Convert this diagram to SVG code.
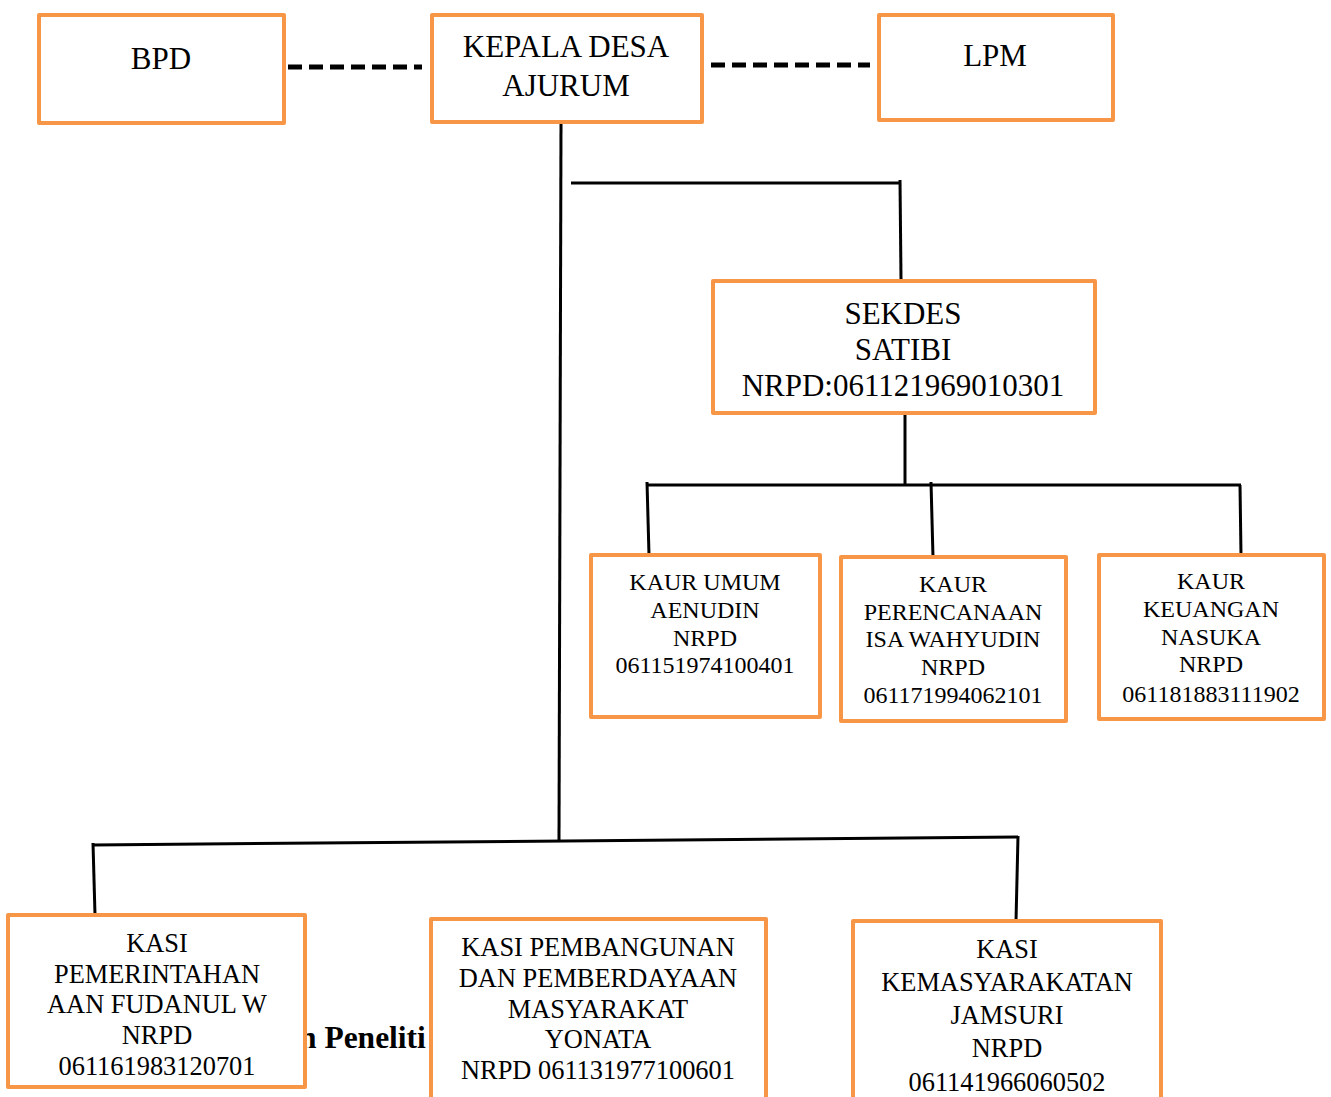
<svg xmlns="http://www.w3.org/2000/svg" width="1331" height="1097" viewBox="0 0 1331 1097">
<style>
.box{fill:#fff;stroke:#F79646;stroke-width:4;stroke-linejoin:round}
text{font-family:"Liberation Serif","Times New Roman",serif;fill:#000;text-anchor:middle}
.t31{font-size:31px}
.t24{font-size:24px}
.t26{font-size:26.4px}
.ln{stroke:#000;stroke-width:3;fill:none}
.dash{stroke:#000;stroke-width:5;stroke-dasharray:14 7;fill:none}
</style>
<rect width="1331" height="1097" fill="#fff"/>
<text x="299" y="1048" style="font-size:31.5px;font-weight:bold;text-anchor:start">n Peneliti</text>
<g id="connectors">
<line class="dash" x1="288" y1="67" x2="422" y2="67"/>
<line class="dash" x1="711" y1="65" x2="870" y2="65"/>
<line class="ln" x1="561" y1="122" x2="559" y2="840"/>
<line class="ln" x1="571" y1="183" x2="901" y2="183"/>
<line class="ln" x1="900" y1="180" x2="901" y2="279"/>
<line class="ln" x1="905" y1="413" x2="905" y2="485"/>
<line class="ln" x1="646" y1="485" x2="1241" y2="485"/>
<line class="ln" x1="647" y1="482" x2="649" y2="555"/>
<line class="ln" x1="931" y1="482" x2="933" y2="557"/>
<line class="ln" x1="1240" y1="485" x2="1241" y2="555"/>
<path class="ln" d="M93 845 L1018 837"/>
<line class="ln" x1="93" y1="843" x2="95" y2="915"/>
<line class="ln" x1="1018" y1="836" x2="1016" y2="921"/>
</g>
<g id="bpd"><rect class="box" x="39" y="15" width="245" height="108"/><text class="t31" x="161" y="69">BPD</text></g>
<g id="kepala"><rect class="box" x="432" y="15" width="270" height="107"/><text class="t31" x="566" y="57">KEPALA DESA</text><text class="t31" x="566" y="96">AJURUM</text></g>
<g id="lpm"><rect class="box" x="879" y="15" width="234" height="105"/><text class="t31" x="995" y="66">LPM</text></g>
<g id="sekdes"><rect class="box" x="713" y="281" width="382" height="132"/><text class="t31" x="903" y="324">SEKDES</text><text class="t31" x="903" y="360">SATIBI</text><text class="t31" x="903" y="396">NRPD:061121969010301</text></g>
<g id="kaur-umum"><rect class="box" x="591" y="555" width="229" height="162"/><text class="t24" x="705" y="590">KAUR UMUM</text><text class="t24" x="705" y="618">AENUDIN</text><text class="t24" x="705" y="646">NRPD</text><text class="t24" x="705" y="673">061151974100401</text></g>
<g id="kaur-perencanaan"><rect class="box" x="841" y="557" width="225" height="164"/><text class="t24" x="953" y="592">KAUR</text><text class="t24" x="953" y="620">PERENCANAAN</text><text class="t24" x="953" y="647">ISA WAHYUDIN</text><text class="t24" x="953" y="675">NRPD</text><text class="t24" x="953" y="703">061171994062101</text></g>
<g id="kaur-keuangan"><rect class="box" x="1099" y="555" width="225" height="164"/><text class="t24" x="1211" y="589">KAUR</text><text class="t24" x="1211" y="617">KEUANGAN</text><text class="t24" x="1211" y="645">NASUKA</text><text class="t24" x="1211" y="672">NRPD</text><text class="t24" x="1211" y="702">061181883111902</text></g>
<g id="kasi-pemerintahan"><rect class="box" x="8" y="915" width="297" height="172"/><text class="t26" x="157" y="952">KASI</text><text class="t26" x="157" y="983">PEMERINTAHAN</text><text class="t26" x="157" y="1013">AAN FUDANUL W</text><text class="t26" x="157" y="1044">NRPD</text><text class="t26" x="157" y="1075">061161983120701</text></g>
<g id="kasi-pembangunan"><rect class="box" x="431" y="919" width="335" height="180"/><text class="t26" x="598" y="956">KASI PEMBANGUNAN</text><text class="t26" x="598" y="987">DAN PEMBERDAYAAN</text><text class="t26" x="598" y="1018">MASYARAKAT</text><text class="t26" x="598" y="1048">YONATA</text><text class="t26" x="598" y="1079">NRPD 061131977100601</text></g>
<g id="kasi-kemasyarakatan"><rect class="box" x="853" y="921" width="308" height="180"/><text class="t26" x="1007" y="958">KASI</text><text class="t26" x="1007" y="991">KEMASYARAKATAN</text><text class="t26" x="1007" y="1024">JAMSURI</text><text class="t26" x="1007" y="1057">NRPD</text><text class="t26" x="1007" y="1091">061141966060502</text></g>
</svg>
